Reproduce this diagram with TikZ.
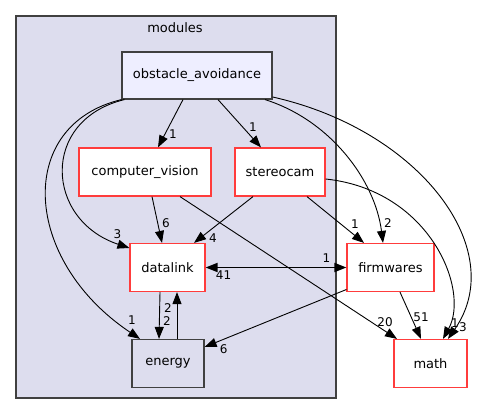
\documentclass[tikz,border=0pt]{standalone}
\usepackage{fontspec}
\setmainfont{DejaVu Sans}
\usetikzlibrary{arrows.meta}
\definecolor{clusterfill}{HTML}{DDDDEE}
\definecolor{topfill}{HTML}{EEEEFF}
\definecolor{framegray}{HTML}{404040}
\definecolor{dirred}{HTML}{FF3C3C}
\tikzset{
  dirbox/.style={draw=dirred, fill=white, line width=1.2pt, minimum height=48pt, inner sep=0pt, font=\fontsize{13}{15}\selectfont},
  graybox/.style={dirbox, draw=framegray},
  dep/.style={-{Triangle[length=12pt,width=9pt]}, line width=0.9pt},
  num/.style={font=\fontsize{12}{14}\selectfont, inner sep=0pt},
}
\begin{document}
\begin{tikzpicture}[x=1pt, y=-1pt]
  \fill[white] (0,0) rectangle (479,415);
  \useasboundingbox (0,0) rectangle (479,415);

  % Cluster
  \draw[draw=framegray, fill=clusterfill, line width=1.1pt] (16,16) rectangle (336,398);
  \node[font=\fontsize{13}{15}\selectfont] (modules) at (175,27.5) {modules};

  % Directories
  \node[graybox, fill=topfill, minimum width=150pt, minimum height=47pt] (obst) at (197,75.5) {obstacle\_avoidance};
  \node[dirbox, minimum width=132pt] (cv) at (145,172) {computer\_vision};
  \node[dirbox, minimum width=90pt] (stereo) at (280,172) {stereocam};
  \node[dirbox, minimum width=75pt] (dlink) at (167.5,267.5) {datalink};
  \node[graybox, fill=clusterfill, minimum width=72pt] (energy) at (168,363.5) {energy};
  \node[dirbox, minimum width=87pt] (firm) at (390.5,267.5) {firmwares};
  \node[dirbox, minimum width=73pt] (math) at (430.5,363.5) {math};

  % obstacle_avoidance dependencies
  \draw[dep] ([xshift=-14pt]obst.south) -- ([xshift=13pt]cv.north) node[num, at end, shift={(15,-13)}] {1};
  \draw[dep] ([xshift=21pt]obst.south) -- ([xshift=-19pt]stereo.north) node[num, at end, shift={(-8,-20)}] {1};
  \draw[dep] ([xshift=3pt]obst.south west) .. controls (40,120) and (45,220) .. ([yshift=19.5pt]dlink.west) node[num, at end, shift={(-12,-14)}] {3};
  \draw[dep] (obst.south west) .. controls (15,125) and (22,260) .. ([xshift=-28pt]energy.north) node[num, at end, shift={(-8,-19)}] {1};
  \draw[dep] ([xshift=68pt]obst.south) .. controls (330,120) and (375,180) .. ([xshift=-7.5pt]firm.north) node[num, at end, shift={(5,-20)}] {2};
  \draw[dep] ([yshift=-21.5pt]obst.east) .. controls (420,130) and (510,250) .. ([xshift=17.5pt]math.north) node[num, at end, shift={(15,-12)}] {3};

  % computer_vision and stereocam dependencies
  \draw[dep] ([xshift=7pt]cv.south) -- ([xshift=-5.5pt]dlink.north) node[num, at end, shift={(4,-20)}] {6};
  \draw[dep] ([xshift=35pt]cv.south) -- ([xshift=-33.5pt]math.north) node[num, at end, shift={(-12,-17)}] {20};
  \draw[dep] ([xshift=-27pt]stereo.south) -- ([xshift=26.5pt]dlink.north) node[num, at end, shift={(19,-5)}] {4};
  \draw[dep] ([xshift=27pt]stereo.south) -- ([xshift=-26.5pt]firm.north) node[num, at end, shift={(-9,-19)}] {1};
  \draw[dep] ([yshift=-7pt]stereo.east) .. controls (430,190) and (470,290) .. ([xshift=12.5pt]math.north) node[num, at end, shift={(12,-16)}] {1};

  % datalink, energy and firmwares
  \draw[dep, {Triangle[length=12pt,width=9pt]}-{Triangle[length=12pt,width=9pt]}, line width=1.8pt] (dlink.east) -- (firm.west)
    node[num, at start, shift={(18,8)}] {41} node[num, at end, shift={(-20,-9)}] {1};
  \draw[dep] ([xshift=-7.5pt]dlink.south) -- ([xshift=-9pt]energy.north) node[num, at end, shift={(8,-18)}] {2};
  \draw[dep] ([xshift=9pt]energy.north) -- ([xshift=9.5pt]dlink.south) node[num, at end, shift={(-9,16)}] {2};
  \draw[dep] ([yshift=-22pt]firm.west) -- ([yshift=16.5pt]energy.east) node[num, at end, shift={(19,2)}] {6};
  \draw[dep] ([xshift=9.5pt]firm.south) -- ([xshift=-9.5pt]math.north) node[num, at end, shift={(0,-22)}] {51};
\end{tikzpicture}
\end{document}
